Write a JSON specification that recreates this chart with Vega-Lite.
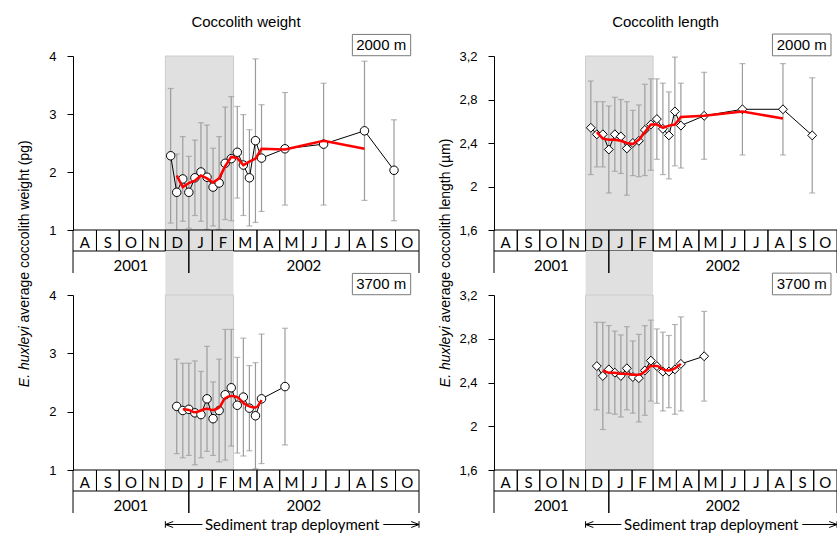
{
"$schema": "https://vega.github.io/schema/vega-lite/v6.json",
"padding": {"left": 16, "top": 14, "right": 0, "bottom": 0},
"autosize": {"type": "pad"},
"bounds": "flush",
"columns": 2,
"spacing": {"row": 0, "column": 75},
"resolve": {"scale": {"x": "independent", "y": "independent"}},
"config": {
  "view": {"stroke": null},
  "axis": {"domainColor": "black", "tickColor": "black", "labelColor": "black", "titleColor": "black", "grid": false, "tickSize": 6, "labelFontSize": 13, "labelFont": "Liberation Sans", "titleFont": "Liberation Sans", "titleFontWeight": "normal", "titleFontSize": 14, "labelPadding": 11, "labelFlush": false, "domainWidth": 1, "tickWidth": 1}
},
"datasets": {
  "shade": [{"start": "2001-12-01", "end": "2002-03-01"}],
  "months": [
    {"label": "A", "start": "2001-08-01", "end": "2001-09-01"},
    {"label": "S", "start": "2001-09-01", "end": "2001-10-01"},
    {"label": "O", "start": "2001-10-01", "end": "2001-11-01"},
    {"label": "N", "start": "2001-11-01", "end": "2001-12-01"},
    {"label": "D", "start": "2001-12-01", "end": "2002-01-01"},
    {"label": "J", "start": "2002-01-01", "end": "2002-02-01"},
    {"label": "F", "start": "2002-02-01", "end": "2002-03-01"},
    {"label": "M", "start": "2002-03-01", "end": "2002-04-01"},
    {"label": "A", "start": "2002-04-01", "end": "2002-05-01"},
    {"label": "M", "start": "2002-05-01", "end": "2002-06-01"},
    {"label": "J", "start": "2002-06-01", "end": "2002-07-01"},
    {"label": "J", "start": "2002-07-01", "end": "2002-08-01"},
    {"label": "A", "start": "2002-08-01", "end": "2002-09-01"},
    {"label": "S", "start": "2002-09-01", "end": "2002-10-01"},
    {"label": "O", "start": "2002-10-01", "end": "2002-11-01"}
  ],
  "years": [
    {"year": "2001", "date": "2001-08-01"},
    {"year": "2001", "date": "2002-01-01"},
    {"year": "2002", "date": "2002-01-01"},
    {"year": "2002", "date": "2002-11-01"}
  ],
  "deploy": [
    {"label": "Sediment trap deployment", "edge": "start", "date": "2001-12-01"},
    {"label": "Sediment trap deployment", "edge": "end", "date": "2002-11-01"}
  ],
  "w2000": [
    {"date": "2001-12-08", "mean": 2.28, "sd": 1.16},
    {"date": "2001-12-16", "mean": 1.65, "sd": 0.66},
    {"date": "2001-12-24", "mean": 1.88, "sd": 0.73},
    {"date": "2002-01-01", "mean": 1.65, "sd": 0.62},
    {"date": "2002-01-09", "mean": 1.90, "sd": 0.65},
    {"date": "2002-01-17", "mean": 2.00, "sd": 0.85},
    {"date": "2002-01-25", "mean": 1.91, "sd": 0.90},
    {"date": "2002-02-02", "mean": 1.74, "sd": 0.67},
    {"date": "2002-02-10", "mean": 1.81, "sd": 0.80},
    {"date": "2002-02-18", "mean": 2.15, "sd": 0.97},
    {"date": "2002-02-26", "mean": 2.23, "sd": 1.07},
    {"date": "2002-03-06", "mean": 2.34, "sd": 0.79},
    {"date": "2002-03-14", "mean": 2.12, "sd": 0.87},
    {"date": "2002-03-22", "mean": 1.90, "sd": 0.83},
    {"date": "2002-03-30", "mean": 2.54, "sd": 1.41},
    {"date": "2002-04-07", "mean": 2.24, "sd": 0.92},
    {"date": "2002-05-08", "mean": 2.40, "sd": 0.97},
    {"date": "2002-06-28", "mean": 2.48, "sd": 1.05},
    {"date": "2002-08-21", "mean": 2.71, "sd": 1.20},
    {"date": "2002-09-29", "mean": 2.03, "sd": 0.87}
  ],
  "sw2000": [
    {"date": "2001-12-16", "value": 1.94},
    {"date": "2001-12-24", "value": 1.74},
    {"date": "2002-01-01", "value": 1.81},
    {"date": "2002-01-09", "value": 1.85},
    {"date": "2002-01-17", "value": 1.94},
    {"date": "2002-01-25", "value": 1.89},
    {"date": "2002-02-02", "value": 1.82},
    {"date": "2002-02-10", "value": 1.89},
    {"date": "2002-02-18", "value": 2.10},
    {"date": "2002-02-26", "value": 2.26},
    {"date": "2002-03-06", "value": 2.24},
    {"date": "2002-03-14", "value": 2.12},
    {"date": "2002-03-22", "value": 2.18},
    {"date": "2002-03-30", "value": 2.23},
    {"date": "2002-04-07", "value": 2.40},
    {"date": "2002-05-08", "value": 2.39},
    {"date": "2002-06-28", "value": 2.54},
    {"date": "2002-08-21", "value": 2.40}
  ],
  "l2000": [
    {"date": "2001-12-08", "mean": 2.54, "sd": 0.43},
    {"date": "2001-12-16", "mean": 2.48, "sd": 0.30},
    {"date": "2001-12-24", "mean": 2.48, "sd": 0.30},
    {"date": "2002-01-01", "mean": 2.34, "sd": 0.40},
    {"date": "2002-01-09", "mean": 2.48, "sd": 0.34},
    {"date": "2002-01-17", "mean": 2.46, "sd": 0.34},
    {"date": "2002-01-25", "mean": 2.35, "sd": 0.43},
    {"date": "2002-02-02", "mean": 2.40, "sd": 0.30},
    {"date": "2002-02-10", "mean": 2.42, "sd": 0.33},
    {"date": "2002-02-18", "mean": 2.52, "sd": 0.42},
    {"date": "2002-02-26", "mean": 2.57, "sd": 0.42},
    {"date": "2002-03-06", "mean": 2.62, "sd": 0.37},
    {"date": "2002-03-14", "mean": 2.53, "sd": 0.42},
    {"date": "2002-03-22", "mean": 2.47, "sd": 0.40},
    {"date": "2002-03-30", "mean": 2.69, "sd": 0.50},
    {"date": "2002-04-07", "mean": 2.56, "sd": 0.39},
    {"date": "2002-05-08", "mean": 2.65, "sd": 0.40},
    {"date": "2002-06-28", "mean": 2.71, "sd": 0.42},
    {"date": "2002-08-21", "mean": 2.71, "sd": 0.42},
    {"date": "2002-09-29", "mean": 2.47, "sd": 0.53}
  ],
  "sl2000": [
    {"date": "2001-12-16", "value": 2.50},
    {"date": "2001-12-24", "value": 2.44},
    {"date": "2002-01-01", "value": 2.43},
    {"date": "2002-01-09", "value": 2.43},
    {"date": "2002-01-17", "value": 2.42},
    {"date": "2002-01-25", "value": 2.40},
    {"date": "2002-02-02", "value": 2.39},
    {"date": "2002-02-10", "value": 2.43},
    {"date": "2002-02-18", "value": 2.50},
    {"date": "2002-02-26", "value": 2.57},
    {"date": "2002-03-06", "value": 2.57},
    {"date": "2002-03-14", "value": 2.54},
    {"date": "2002-03-22", "value": 2.56},
    {"date": "2002-03-30", "value": 2.57},
    {"date": "2002-04-07", "value": 2.64},
    {"date": "2002-05-08", "value": 2.65},
    {"date": "2002-06-28", "value": 2.69},
    {"date": "2002-08-21", "value": 2.625}
  ],
  "w3700": [
    {"date": "2001-12-16", "mean": 2.09, "sd": 0.81},
    {"date": "2001-12-24", "mean": 2.02, "sd": 0.81},
    {"date": "2002-01-01", "mean": 2.04, "sd": 0.79},
    {"date": "2002-01-09", "mean": 1.98, "sd": 0.89},
    {"date": "2002-01-17", "mean": 1.95, "sd": 0.74},
    {"date": "2002-01-25", "mean": 2.22, "sd": 0.90},
    {"date": "2002-02-02", "mean": 1.88, "sd": 0.63},
    {"date": "2002-02-10", "mean": 2.02, "sd": 0.88},
    {"date": "2002-02-18", "mean": 2.29, "sd": 1.12},
    {"date": "2002-02-26", "mean": 2.41, "sd": 1.00},
    {"date": "2002-03-06", "mean": 2.11, "sd": 0.82},
    {"date": "2002-03-14", "mean": 2.25, "sd": 1.01},
    {"date": "2002-03-22", "mean": 2.06, "sd": 0.73},
    {"date": "2002-03-30", "mean": 1.93, "sd": 0.91},
    {"date": "2002-04-07", "mean": 2.22, "sd": 1.11},
    {"date": "2002-05-08", "mean": 2.43, "sd": 1.00}
  ],
  "sw3700": [
    {"date": "2001-12-24", "value": 2.04},
    {"date": "2002-01-01", "value": 2.03},
    {"date": "2002-01-09", "value": 1.99},
    {"date": "2002-01-17", "value": 2.02},
    {"date": "2002-01-25", "value": 2.05},
    {"date": "2002-02-02", "value": 2.03},
    {"date": "2002-02-10", "value": 2.07},
    {"date": "2002-02-18", "value": 2.23},
    {"date": "2002-02-26", "value": 2.27},
    {"date": "2002-03-06", "value": 2.25},
    {"date": "2002-03-14", "value": 2.15},
    {"date": "2002-03-22", "value": 2.09},
    {"date": "2002-03-30", "value": 2.07},
    {"date": "2002-04-07", "value": 2.20}
  ],
  "l3700": [
    {"date": "2001-12-16", "mean": 2.55, "sd": 0.40},
    {"date": "2001-12-24", "mean": 2.46, "sd": 0.49},
    {"date": "2002-01-01", "mean": 2.52, "sd": 0.40},
    {"date": "2002-01-09", "mean": 2.49, "sd": 0.38},
    {"date": "2002-01-17", "mean": 2.46, "sd": 0.375},
    {"date": "2002-01-25", "mean": 2.53, "sd": 0.38},
    {"date": "2002-02-02", "mean": 2.45, "sd": 0.33},
    {"date": "2002-02-10", "mean": 2.44, "sd": 0.40},
    {"date": "2002-02-18", "mean": 2.51, "sd": 0.41},
    {"date": "2002-02-26", "mean": 2.60, "sd": 0.37},
    {"date": "2002-03-06", "mean": 2.55, "sd": 0.34},
    {"date": "2002-03-14", "mean": 2.50, "sd": 0.36},
    {"date": "2002-03-22", "mean": 2.50, "sd": 0.33},
    {"date": "2002-03-30", "mean": 2.52, "sd": 0.41},
    {"date": "2002-04-07", "mean": 2.57, "sd": 0.43},
    {"date": "2002-05-08", "mean": 2.64, "sd": 0.41}
  ],
  "sl3700": [
    {"date": "2001-12-24", "value": 2.51},
    {"date": "2002-01-01", "value": 2.49},
    {"date": "2002-01-09", "value": 2.49},
    {"date": "2002-01-17", "value": 2.48},
    {"date": "2002-01-25", "value": 2.48},
    {"date": "2002-02-02", "value": 2.47},
    {"date": "2002-02-10", "value": 2.47},
    {"date": "2002-02-18", "value": 2.50},
    {"date": "2002-02-26", "value": 2.55},
    {"date": "2002-03-06", "value": 2.55},
    {"date": "2002-03-14", "value": 2.52},
    {"date": "2002-03-22", "value": 2.51},
    {"date": "2002-03-30", "value": 2.53},
    {"date": "2002-04-07", "value": 2.57}
  ]
},
"concat": [
   {
    "width": 346, "height": 174,
    "title": {"text": "Coccolith weight", "offset": 4, "fontSize": 15, "fontWeight": "normal", "font": "Liberation Sans", "color": "black"},
    "layer": [
     {"data": {"name": "shade"}, "mark": {"type": "rect", "fill": "#e0e0e0", "stroke": "#cccccc", "strokeWidth": 1}, "encoding": {"x": {"field": "start", "type": "temporal", "scale": {"type": "utc", "nice": false, "domain": [{"year": 2001, "month": 8, "date": 1, "utc": true}, {"year": 2002, "month": 11, "date": 1, "utc": true}]}, "axis": null}, "x2": {"field": "end"}}},
     {"data": {"name": "w2000"}, "mark": {"type": "errorbar", "color": "#9b9b9b", "thickness": 1.2, "ticks": {"size": 6}, "clip": true}, "encoding": {"x": {"field": "date", "type": "temporal"}, "y": {"field": "mean", "type": "quantitative", "scale": {"domain": [1, 4]}, "axis": {"values": [1, 1.5, 2, 2.5, 3, 3.5, 4], "format": ".1~f", "labelExpr": "round(datum.value*2) % 2 == 0 ? datum.label : ''", "title": "average coccolith weight (pg)", "titleAngle": 270, "titleAlign": "left", "titleBaseline": "bottom", "titleX": -42, "titleY": 266}}, "yError": {"field": "sd"}}},
     {"data": {"name": "w2000"}, "mark": {"type": "line", "color": "black", "strokeWidth": 1}, "encoding": {"x": {"field": "date", "type": "temporal"}, "y": {"field": "mean", "type": "quantitative"}}},
     {"data": {"name": "w2000"}, "mark": {"type": "point", "shape": "circle", "filled": true, "fill": "white", "stroke": "black", "strokeWidth": 1, "size": 72, "opacity": 1}, "encoding": {"x": {"field": "date", "type": "temporal"}, "y": {"field": "mean", "type": "quantitative"}}},
     {"data": {"name": "sw2000"}, "mark": {"type": "line", "color": "#ff0000", "strokeWidth": 2.5}, "encoding": {"x": {"field": "date", "type": "temporal"}, "y": {"field": "value", "type": "quantitative"}}},
     {"data": {"values": [{"label": "2000 m"}]}, "mark": {"type": "rect", "fill": "white", "stroke": "#7a7a7a", "strokeWidth": 1}, "encoding": {"x": {"datum": {"year": 2002, "month": 8, "date": 5, "utc": true}, "type": "temporal"}, "x2": {"datum": {"year": 2002, "month": 10, "date": 21, "utc": true}}, "y": {"datum": 4.005, "type": "quantitative"}, "y2": {"datum": 4.372}}},
     {"data": {"values": [{"label": "2000 m"}]}, "mark": {"type": "text", "fontSize": 15, "font": "Liberation Sans", "color": "black"}, "encoding": {"x": {"datum": {"year": 2002, "month": 9, "date": 12, "utc": true}, "type": "temporal"}, "y": {"datum": 4.19, "type": "quantitative"}, "text": {"field": "label"}}}
    ]
   },
   {
    "width": 343, "height": 174,
    "title": {"text": "Coccolith length", "offset": 4, "fontSize": 15, "fontWeight": "normal", "font": "Liberation Sans", "color": "black"},
    "layer": [
     {"data": {"name": "shade"}, "mark": {"type": "rect", "fill": "#e0e0e0", "stroke": "#cccccc", "strokeWidth": 1}, "encoding": {"x": {"field": "start", "type": "temporal", "scale": {"type": "utc", "nice": false, "domain": [{"year": 2001, "month": 8, "date": 1, "utc": true}, {"year": 2002, "month": 11, "date": 1, "utc": true}]}, "axis": null}, "x2": {"field": "end"}}},
     {"data": {"name": "l2000"}, "mark": {"type": "errorbar", "color": "#9b9b9b", "thickness": 1.2, "ticks": {"size": 6}, "clip": true}, "encoding": {"x": {"field": "date", "type": "temporal"}, "y": {"field": "mean", "type": "quantitative", "scale": {"domain": [1.6, 3.2]}, "axis": {"values": [1.6, 1.8, 2, 2.2, 2.4, 2.6, 2.8, 3, 3.2], "format": ".1~f", "labelExpr": "round(datum.value*10) % 4 == 0 ? replace(datum.label, '.', ',') : ''", "title": "average coccolith length (µm)", "titleAngle": 270, "titleAlign": "left", "titleBaseline": "bottom", "titleX": -42, "titleY": 266}}, "yError": {"field": "sd"}}},
     {"data": {"name": "l2000"}, "mark": {"type": "line", "color": "black", "strokeWidth": 1}, "encoding": {"x": {"field": "date", "type": "temporal"}, "y": {"field": "mean", "type": "quantitative"}}},
     {"data": {"name": "l2000"}, "mark": {"type": "point", "shape": "diamond", "filled": true, "fill": "white", "stroke": "black", "strokeWidth": 1, "size": 80, "opacity": 1}, "encoding": {"x": {"field": "date", "type": "temporal"}, "y": {"field": "mean", "type": "quantitative"}}},
     {"data": {"name": "sl2000"}, "mark": {"type": "line", "color": "#ff0000", "strokeWidth": 2.5}, "encoding": {"x": {"field": "date", "type": "temporal"}, "y": {"field": "value", "type": "quantitative"}}},
     {"data": {"values": [{"label": "2000 m"}]}, "mark": {"type": "rect", "fill": "white", "stroke": "#7a7a7a", "strokeWidth": 1}, "encoding": {"x": {"datum": {"year": 2002, "month": 8, "date": 7, "utc": true}, "type": "temporal"}, "x2": {"datum": {"year": 2002, "month": 10, "date": 24, "utc": true}}, "y": {"datum": 3.202, "type": "quantitative"}, "y2": {"datum": 3.402}}},
     {"data": {"values": [{"label": "2000 m"}]}, "mark": {"type": "text", "fontSize": 15, "font": "Liberation Sans", "color": "black"}, "encoding": {"x": {"datum": {"year": 2002, "month": 9, "date": 15, "utc": true}, "type": "temporal"}, "y": {"datum": 3.303, "type": "quantitative"}, "text": {"field": "label"}}}
    ]
   },
   {
    "width": 346, "height": 21,
    "layer": [
     {"data": {"name": "shade"}, "mark": {"type": "rect", "fill": "#e0e0e0"}, "encoding": {"x": {"field": "start", "type": "temporal", "scale": {"type": "utc", "nice": false, "domain": [{"year": 2001, "month": 8, "date": 1, "utc": true}, {"year": 2002, "month": 11, "date": 1, "utc": true}]}, "axis": null}, "x2": {"field": "end"}}},
     {"data": {"name": "months"}, "mark": {"type": "rect", "fill": "transparent", "stroke": "black", "strokeWidth": 1}, "encoding": {"x": {"field": "start", "type": "temporal"}, "x2": {"field": "end"}}},
     {"data": {"name": "months"}, "mark": {"type": "text", "font": "Lato", "fontSize": 15, "color": "black", "dy": 2}, "encoding": {"x": {"field": "start", "type": "temporal", "timeUnit": "utcyearmonth", "bandPosition": 0.5}, "text": {"field": "label"}}}
    ]
   },
   {
    "width": 343, "height": 21,
    "layer": [
     {"data": {"name": "shade"}, "mark": {"type": "rect", "fill": "#e0e0e0"}, "encoding": {"x": {"field": "start", "type": "temporal", "scale": {"type": "utc", "nice": false, "domain": [{"year": 2001, "month": 8, "date": 1, "utc": true}, {"year": 2002, "month": 11, "date": 1, "utc": true}]}, "axis": null}, "x2": {"field": "end"}}},
     {"data": {"name": "months"}, "mark": {"type": "rect", "fill": "transparent", "stroke": "black", "strokeWidth": 1}, "encoding": {"x": {"field": "start", "type": "temporal"}, "x2": {"field": "end"}}},
     {"data": {"name": "months"}, "mark": {"type": "text", "font": "Lato", "fontSize": 15, "color": "black", "dy": 2}, "encoding": {"x": {"field": "start", "type": "temporal", "timeUnit": "utcyearmonth", "bandPosition": 0.5}, "text": {"field": "label"}}}
    ]
   },
   {
    "width": 346, "height": 22,
    "layer": [
     {"data": {"name": "shade"}, "mark": {"type": "rect", "fill": "#e0e0e0"}, "encoding": {"x": {"field": "start", "type": "temporal", "scale": {"type": "utc", "nice": false, "domain": [{"year": 2001, "month": 8, "date": 1, "utc": true}, {"year": 2002, "month": 11, "date": 1, "utc": true}]}, "axis": null}, "x2": {"field": "end"}}},
     {"data": {"name": "years"}, "mark": {"type": "rule", "color": "black", "strokeWidth": 1}, "encoding": {"x": {"field": "date", "type": "temporal"}}},
     {"data": {"name": "years"}, "mark": {"type": "text", "font": "Lato", "fontSize": 15, "color": "black", "dy": 4}, "encoding": {"x": {"field": "date", "aggregate": "mean", "type": "temporal"}, "text": {"field": "year"}}}
    ]
   },
   {
    "width": 343, "height": 22,
    "layer": [
     {"data": {"name": "shade"}, "mark": {"type": "rect", "fill": "#e0e0e0"}, "encoding": {"x": {"field": "start", "type": "temporal", "scale": {"type": "utc", "nice": false, "domain": [{"year": 2001, "month": 8, "date": 1, "utc": true}, {"year": 2002, "month": 11, "date": 1, "utc": true}]}, "axis": null}, "x2": {"field": "end"}}},
     {"data": {"name": "years"}, "mark": {"type": "rule", "color": "black", "strokeWidth": 1}, "encoding": {"x": {"field": "date", "type": "temporal"}}},
     {"data": {"name": "years"}, "mark": {"type": "text", "font": "Lato", "fontSize": 15, "color": "black", "dy": 4}, "encoding": {"x": {"field": "date", "aggregate": "mean", "type": "temporal"}, "text": {"field": "year"}}}
    ]
   },
   {
    "width": 346, "height": 22,
    "data": {"name": "shade"}, "mark": {"type": "rect", "fill": "#e0e0e0"}, "encoding": {"x": {"field": "start", "type": "temporal", "scale": {"type": "utc", "nice": false, "domain": [{"year": 2001, "month": 8, "date": 1, "utc": true}, {"year": 2002, "month": 11, "date": 1, "utc": true}]}, "axis": null}, "x2": {"field": "end"}}
   },
   {
    "width": 343, "height": 22,
    "data": {"name": "shade"}, "mark": {"type": "rect", "fill": "#e0e0e0"}, "encoding": {"x": {"field": "start", "type": "temporal", "scale": {"type": "utc", "nice": false, "domain": [{"year": 2001, "month": 8, "date": 1, "utc": true}, {"year": 2002, "month": 11, "date": 1, "utc": true}]}, "axis": null}, "x2": {"field": "end"}}
   },
   {
    "width": 346, "height": 175,
    "layer": [
     {"data": {"name": "shade"}, "mark": {"type": "rect", "fill": "#e0e0e0", "stroke": "#cccccc", "strokeWidth": 1}, "encoding": {"x": {"field": "start", "type": "temporal", "scale": {"type": "utc", "nice": false, "domain": [{"year": 2001, "month": 8, "date": 1, "utc": true}, {"year": 2002, "month": 11, "date": 1, "utc": true}]}, "axis": null}, "x2": {"field": "end"}}},
     {"data": {"name": "w3700"}, "mark": {"type": "errorbar", "color": "#9b9b9b", "thickness": 1.2, "ticks": {"size": 6}, "clip": true}, "encoding": {"x": {"field": "date", "type": "temporal"}, "y": {"field": "mean", "type": "quantitative", "scale": {"domain": [1, 4]}, "axis": {"values": [1, 1.5, 2, 2.5, 3, 3.5, 4], "format": ".1~f", "labelExpr": "round(datum.value*2) % 2 == 0 ? datum.label : ''", "title": "E. huxleyi", "titleFontStyle": "italic", "titleAngle": 270, "titleAlign": "right", "titleBaseline": "bottom", "titleX": -42, "titleY": 31}}, "yError": {"field": "sd"}}},
     {"data": {"name": "w3700"}, "mark": {"type": "line", "color": "black", "strokeWidth": 1}, "encoding": {"x": {"field": "date", "type": "temporal"}, "y": {"field": "mean", "type": "quantitative"}}},
     {"data": {"name": "w3700"}, "mark": {"type": "point", "shape": "circle", "filled": true, "fill": "white", "stroke": "black", "strokeWidth": 1, "size": 72, "opacity": 1}, "encoding": {"x": {"field": "date", "type": "temporal"}, "y": {"field": "mean", "type": "quantitative"}}},
     {"data": {"name": "sw3700"}, "mark": {"type": "line", "color": "#ff0000", "strokeWidth": 2.5, "interpolate": "monotone"}, "encoding": {"x": {"field": "date", "type": "temporal"}, "y": {"field": "value", "type": "quantitative"}}},
     {"data": {"values": [{"label": "3700 m"}]}, "mark": {"type": "rect", "fill": "white", "stroke": "#7a7a7a", "strokeWidth": 1}, "encoding": {"x": {"datum": {"year": 2002, "month": 8, "date": 5, "utc": true}, "type": "temporal"}, "x2": {"datum": {"year": 2002, "month": 10, "date": 21, "utc": true}}, "y": {"datum": 4.005, "type": "quantitative"}, "y2": {"datum": 4.37}}},
     {"data": {"values": [{"label": "3700 m"}]}, "mark": {"type": "text", "fontSize": 15, "font": "Liberation Sans", "color": "black"}, "encoding": {"x": {"datum": {"year": 2002, "month": 9, "date": 12, "utc": true}, "type": "temporal"}, "y": {"datum": 4.19, "type": "quantitative"}, "text": {"field": "label"}}}
    ]
   },
   {
    "width": 343, "height": 175,
    "layer": [
     {"data": {"name": "shade"}, "mark": {"type": "rect", "fill": "#e0e0e0", "stroke": "#cccccc", "strokeWidth": 1}, "encoding": {"x": {"field": "start", "type": "temporal", "scale": {"type": "utc", "nice": false, "domain": [{"year": 2001, "month": 8, "date": 1, "utc": true}, {"year": 2002, "month": 11, "date": 1, "utc": true}]}, "axis": null}, "x2": {"field": "end"}}},
     {"data": {"name": "l3700"}, "mark": {"type": "errorbar", "color": "#9b9b9b", "thickness": 1.2, "ticks": {"size": 6}, "clip": true}, "encoding": {"x": {"field": "date", "type": "temporal"}, "y": {"field": "mean", "type": "quantitative", "scale": {"domain": [1.6, 3.2]}, "axis": {"values": [1.6, 1.8, 2, 2.2, 2.4, 2.6, 2.8, 3, 3.2], "format": ".1~f", "labelExpr": "round(datum.value*10) % 4 == 0 ? replace(datum.label, '.', ',') : ''", "title": "E. huxleyi", "titleFontStyle": "italic", "titleAngle": 270, "titleAlign": "right", "titleBaseline": "bottom", "titleX": -42, "titleY": 31}}, "yError": {"field": "sd"}}},
     {"data": {"name": "l3700"}, "mark": {"type": "line", "color": "black", "strokeWidth": 1}, "encoding": {"x": {"field": "date", "type": "temporal"}, "y": {"field": "mean", "type": "quantitative"}}},
     {"data": {"name": "l3700"}, "mark": {"type": "point", "shape": "diamond", "filled": true, "fill": "white", "stroke": "black", "strokeWidth": 1, "size": 80, "opacity": 1}, "encoding": {"x": {"field": "date", "type": "temporal"}, "y": {"field": "mean", "type": "quantitative"}}},
     {"data": {"name": "sl3700"}, "mark": {"type": "line", "color": "#ff0000", "strokeWidth": 2.5, "interpolate": "monotone"}, "encoding": {"x": {"field": "date", "type": "temporal"}, "y": {"field": "value", "type": "quantitative"}}},
     {"data": {"values": [{"label": "3700 m"}]}, "mark": {"type": "rect", "fill": "white", "stroke": "#7a7a7a", "strokeWidth": 1}, "encoding": {"x": {"datum": {"year": 2002, "month": 8, "date": 7, "utc": true}, "type": "temporal"}, "x2": {"datum": {"year": 2002, "month": 10, "date": 24, "utc": true}}, "y": {"datum": 3.202, "type": "quantitative"}, "y2": {"datum": 3.4}}},
     {"data": {"values": [{"label": "3700 m"}]}, "mark": {"type": "text", "fontSize": 15, "font": "Liberation Sans", "color": "black"}, "encoding": {"x": {"datum": {"year": 2002, "month": 9, "date": 15, "utc": true}, "type": "temporal"}, "y": {"datum": 3.302, "type": "quantitative"}, "text": {"field": "label"}}}
    ]
   },
   {
    "width": 346, "height": 21,
    "layer": [
     {"data": {"name": "months"}, "mark": {"type": "rect", "fill": "transparent", "stroke": "black", "strokeWidth": 1}, "encoding": {"x": {"field": "start", "type": "temporal", "scale": {"type": "utc", "nice": false, "domain": [{"year": 2001, "month": 8, "date": 1, "utc": true}, {"year": 2002, "month": 11, "date": 1, "utc": true}]}, "axis": null}, "x2": {"field": "end"}}},
     {"data": {"name": "months"}, "mark": {"type": "text", "font": "Lato", "fontSize": 15, "color": "black", "dy": 2}, "encoding": {"x": {"field": "start", "type": "temporal", "timeUnit": "utcyearmonth", "bandPosition": 0.5}, "text": {"field": "label"}}}
    ]
   },
   {
    "width": 343, "height": 21,
    "layer": [
     {"data": {"name": "months"}, "mark": {"type": "rect", "fill": "transparent", "stroke": "black", "strokeWidth": 1}, "encoding": {"x": {"field": "start", "type": "temporal", "scale": {"type": "utc", "nice": false, "domain": [{"year": 2001, "month": 8, "date": 1, "utc": true}, {"year": 2002, "month": 11, "date": 1, "utc": true}]}, "axis": null}, "x2": {"field": "end"}}},
     {"data": {"name": "months"}, "mark": {"type": "text", "font": "Lato", "fontSize": 15, "color": "black", "dy": 2}, "encoding": {"x": {"field": "start", "type": "temporal", "timeUnit": "utcyearmonth", "bandPosition": 0.5}, "text": {"field": "label"}}}
    ]
   },
   {
    "width": 346, "height": 22,
    "layer": [
     {"data": {"name": "years"}, "mark": {"type": "rule", "color": "black", "strokeWidth": 1}, "encoding": {"x": {"field": "date", "type": "temporal", "scale": {"type": "utc", "nice": false, "domain": [{"year": 2001, "month": 8, "date": 1, "utc": true}, {"year": 2002, "month": 11, "date": 1, "utc": true}]}, "axis": null}}},
     {"data": {"name": "years"}, "mark": {"type": "text", "font": "Lato", "fontSize": 15, "color": "black", "dy": 4}, "encoding": {"x": {"field": "date", "aggregate": "mean", "type": "temporal"}, "text": {"field": "year"}}}
    ]
   },
   {
    "width": 343, "height": 22,
    "layer": [
     {"data": {"name": "years"}, "mark": {"type": "rule", "color": "black", "strokeWidth": 1}, "encoding": {"x": {"field": "date", "type": "temporal", "scale": {"type": "utc", "nice": false, "domain": [{"year": 2001, "month": 8, "date": 1, "utc": true}, {"year": 2002, "month": 11, "date": 1, "utc": true}]}, "axis": null}}},
     {"data": {"name": "years"}, "mark": {"type": "text", "font": "Lato", "fontSize": 15, "color": "black", "dy": 4}, "encoding": {"x": {"field": "date", "aggregate": "mean", "type": "temporal"}, "text": {"field": "year"}}}
    ]
   },
   {
    "width": 346, "height": 23,
    "data": {"name": "deploy", "format": {"parse": {"date": "date"}}},
    "layer": [
     {"transform": [{"aggregate": [{"op": "min", "field": "date", "as": "s"}, {"op": "max", "field": "date", "as": "e"}]}], "mark": {"type": "rule", "color": "black", "strokeWidth": 1}, "encoding": {"x": {"field": "s", "type": "temporal", "scale": {"type": "utc", "nice": false, "domain": [{"year": 2001, "month": 8, "date": 1, "utc": true}, {"year": 2002, "month": 11, "date": 1, "utc": true}]}, "axis": null}, "x2": {"field": "e"}, "y": {"datum": 0.5, "type": "quantitative", "scale": {"domain": [0, 1]}, "axis": null}}},
     {"mark": {"type": "point", "filled": false, "color": "black", "strokeWidth": 1, "size": 36, "opacity": 1}, "encoding": {"x": {"field": "date", "type": "temporal"}, "y": {"datum": 0.5, "type": "quantitative"}, "shape": {"field": "edge", "type": "nominal", "scale": {"domain": ["start", "end"], "range": ["M2.6,-1L0,0L2.6,1M0,-1.1L0,1.1", "M-2.6,-1L0,0L-2.6,1M0,-1.1L0,1.1"]}, "legend": null}}},
     {"transform": [{"aggregate": [{"op": "mean", "field": "date", "as": "mid"}], "groupby": ["label"]}], "mark": {"type": "text", "font": "Lato", "fontSize": 15, "color": "white", "stroke": "white", "strokeWidth": 8}, "encoding": {"x": {"field": "mid", "type": "temporal"}, "y": {"datum": 0.5, "type": "quantitative"}, "text": {"field": "label"}}},
     {"transform": [{"aggregate": [{"op": "mean", "field": "date", "as": "mid"}], "groupby": ["label"]}], "mark": {"type": "text", "font": "Lato", "fontSize": 15, "color": "black"}, "encoding": {"x": {"field": "mid", "type": "temporal"}, "y": {"datum": 0.5, "type": "quantitative"}, "text": {"field": "label"}}}
    ]
   },
   {
    "width": 343, "height": 23,
    "data": {"name": "deploy", "format": {"parse": {"date": "date"}}},
    "layer": [
     {"transform": [{"aggregate": [{"op": "min", "field": "date", "as": "s"}, {"op": "max", "field": "date", "as": "e"}]}], "mark": {"type": "rule", "color": "black", "strokeWidth": 1}, "encoding": {"x": {"field": "s", "type": "temporal", "scale": {"type": "utc", "nice": false, "domain": [{"year": 2001, "month": 8, "date": 1, "utc": true}, {"year": 2002, "month": 11, "date": 1, "utc": true}]}, "axis": null}, "x2": {"field": "e"}, "y": {"datum": 0.5, "type": "quantitative", "scale": {"domain": [0, 1]}, "axis": null}}},
     {"mark": {"type": "point", "filled": false, "color": "black", "strokeWidth": 1, "size": 36, "opacity": 1}, "encoding": {"x": {"field": "date", "type": "temporal"}, "y": {"datum": 0.5, "type": "quantitative"}, "shape": {"field": "edge", "type": "nominal", "scale": {"domain": ["start", "end"], "range": ["M2.6,-1L0,0L2.6,1M0,-1.1L0,1.1", "M-2.6,-1L0,0L-2.6,1M0,-1.1L0,1.1"]}, "legend": null}}},
     {"transform": [{"aggregate": [{"op": "mean", "field": "date", "as": "mid"}], "groupby": ["label"]}], "mark": {"type": "text", "font": "Lato", "fontSize": 15, "color": "white", "stroke": "white", "strokeWidth": 8}, "encoding": {"x": {"field": "mid", "type": "temporal"}, "y": {"datum": 0.5, "type": "quantitative"}, "text": {"field": "label"}}},
     {"transform": [{"aggregate": [{"op": "mean", "field": "date", "as": "mid"}], "groupby": ["label"]}], "mark": {"type": "text", "font": "Lato", "fontSize": 15, "color": "black"}, "encoding": {"x": {"field": "mid", "type": "temporal"}, "y": {"datum": 0.5, "type": "quantitative"}, "text": {"field": "label"}}}
    ]
   }
]
}
